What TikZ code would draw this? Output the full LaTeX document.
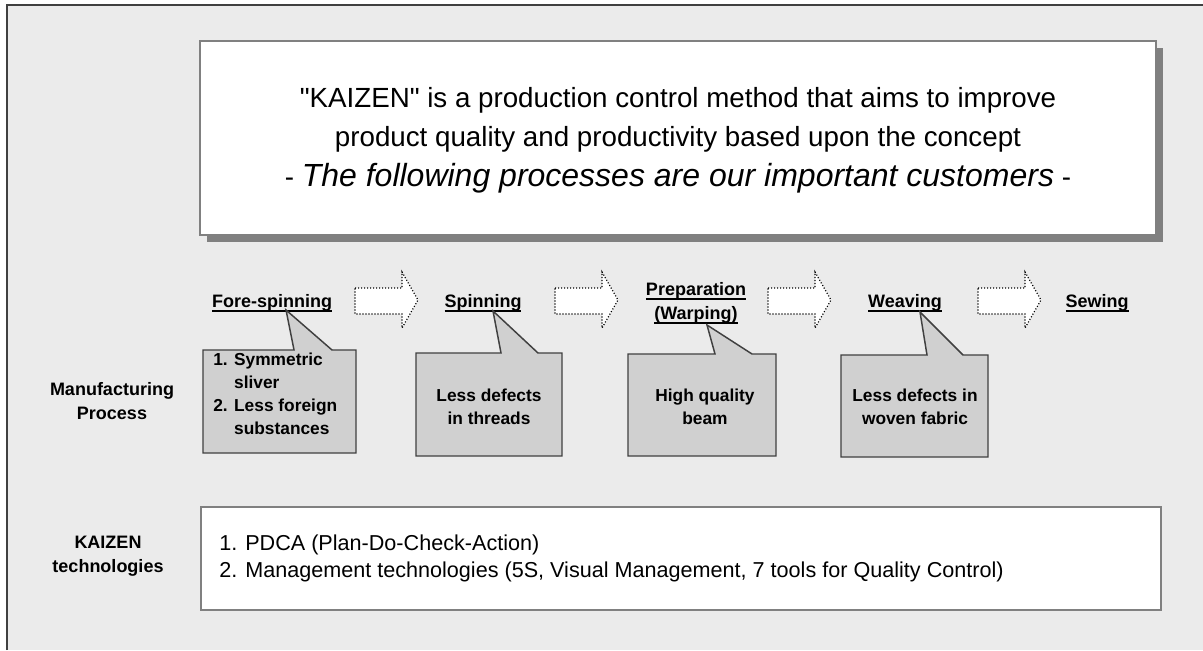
\documentclass[tikz,border=0pt]{standalone}
\usepackage{fontspec}
\setmainfont{Liberation Sans}
\usepackage{xcolor}
\usepackage{tikz}

\definecolor{bgGray}{RGB}{235,235,235}
\definecolor{boxLine}{RGB}{128,128,128}
\definecolor{noteFill}{RGB}{208,208,208}
\definecolor{noteLine}{RGB}{64,64,64}

% bold label with a thick rule just under the baseline
\newcommand{\ulbold}[1]{\setbox0\hbox{#1}\rlap{\rule[-3.6pt]{\wd0}{1.4pt}}\box0}
% straight double quote, kept away from the TeX mapping
\newcommand{\stq}{\XeTeXglyph\XeTeXcharglyph"22\relax}

\begin{document}
\begin{tikzpicture}[x=0.75pt,y=0.75pt,yscale=-1,xscale=1,
    proc/.style={font=\fontsize{13.5}{18}\selectfont\bfseries, inner sep=0pt, align=center},
    notetext/.style={font=\fontsize{13}{17.25}\selectfont\bfseries, inner sep=0pt, align=center},
    note/.style={draw=noteLine, fill=noteFill, line width=1.1pt, line join=miter},
    hollow/.style={draw=black, fill=white, line width=0.9pt, dash pattern=on 0.8pt off 1.45pt}]

    \useasboundingbox (0,0) rectangle (1203,650);
    \fill[bgGray] (7,5) rectangle (1203,650);
    \draw[noteLine, line width=1.2pt] (7,650) -- (7,5) -- (1203,5);

    % headline box with its shadow
    \fill[boxLine] (207,48) rectangle (1163,242);
    \draw[boxLine, fill=white, line width=1.2pt] (200,41) rectangle (1156,235);
    \node[anchor=base, inner sep=0pt, font=\fontsize{20.8}{25}\selectfont] (introA) at (678,107) {\stq KAIZEN\stq{} is a production control method that aims to improve};
    \node[anchor=base, inner sep=0pt, font=\fontsize{20.8}{25}\selectfont] (introB) at (678,146) {product quality and productivity based upon the concept};
    \node[anchor=base, inner sep=0pt, font=\fontsize{20.8}{25}\selectfont] (introC) at (678,186) {- {\fontsize{24}{30}\selectfont\itshape The following processes are our important customers} -};

    % process chain
    \node[proc, anchor=base] (fore) at (272,307) {\ulbold{Fore-spinning}};
    \node[proc, anchor=base] (spin) at (483,307) {\ulbold{Spinning}};
    \node[proc, anchor=base] (prep) at (696,319) {\ulbold{Preparation}\\\ulbold{(Warping)}};
    \node[proc, anchor=base] (weave) at (905,307) {\ulbold{Weaving}};
    \node[proc, anchor=base] (sew) at (1097,307) {\ulbold{Sewing}};

    \foreach \ax in {355,555,768,978}
      \draw[hollow] (\ax,288) -- ++(47,0) -- ++(0,-16) -- ++(16,28) -- ++(-16,28) -- ++(0,-14) -- ++(-47,0) -- cycle;

    % callouts
    \draw[note] (203,350) -- (294,350) -- (286,310) -- (332,350) -- (356,350) -- (356,453) -- (203,453) -- cycle;
    \draw[note] (416,353) -- (501,353) -- (493,311) -- (538,353) -- (562,353) -- (562,456) -- (416,456) -- cycle;
    \draw[note] (628,354) -- (715,354) -- (707,325) -- (752,354) -- (776,354) -- (776,456) -- (628,456) -- cycle;
    \draw[note] (841,355) -- (927,355) -- (920,312) -- (963,355) -- (988,355) -- (988,457) -- (841,457) -- cycle;

    \node[notetext, anchor=west] (sliver) at (213,395) {\begin{tabular}{@{}l@{ }l@{}}1.&Symmetric\\&sliver\\2.&Less foreign\\&substances\end{tabular}};
    \node[notetext] (threads) at (489,406.5) {Less defects\\in threads};
    \node[notetext] (beam) at (705,406.5) {High quality\\beam};
    \node[notetext] (fabric) at (915,406.5) {Less defects in\\woven fabric};

    % row titles
    \node[proc] (manu) at (112,401.5) {Manufacturing\\Process};
    \node[proc] (kaizen) at (108,556.5) {KAIZEN\\technologies};

    % technologies box
    \draw[boxLine, fill=white, line width=1.5pt] (201,507) rectangle (1161,610);
    \node[anchor=west, align=left, inner sep=0pt, font=\fontsize{16.2}{20.25}\selectfont] (tools) at (219,558) {1. PDCA (Plan-Do-Check-Action)\\2. Management technologies (5S, Visual Management, 7 tools for Quality Control)};

\end{tikzpicture}
\end{document}
